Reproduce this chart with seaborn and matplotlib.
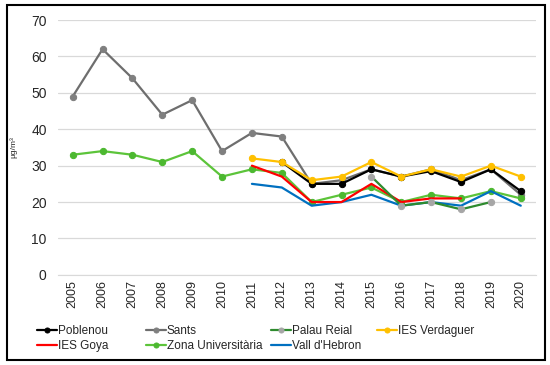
import matplotlib
matplotlib.use("Agg")
import matplotlib.pyplot as plt
import numpy as np
import pandas as pd
import seaborn as sns
from matplotlib.patches import Rectangle

years = [str(y) for y in range(2005, 2021)]

poblenou = [None] * 7 + [31, 25, 25, 29, 27, 28.5, 25.5, 29, 23]
sants = [49, 62, 54, 44, 48, 34, 39, 38, 25, 26, 29, 27, 29, 26, 29, 22]
palau_reial = [None] * 10 + [27, 19, 20, 18, 20, None]
ies_verdaguer = [None] * 6 + [32, 31, 26, 27, 31, 27, 29, 27, 30, 27]
ies_goya = [None] * 6 + [30, 27, 20, 20, 25, 20, 21, 21, None, None]
zona_univ = [33, 34, 33, 31, 34, 27, 29, 28, 20, 22, 24, 20, 22, 21, 23, 21]
vall_hebron = [None] * 6 + [25, 24, 19, 20, 22, 19, 20, 19, 23, 19]

# name, values, line colour, marker, marker colour
series = [
    ("Poblenou", poblenou, "#000000", "o", "#000000"),
    ("Sants", sants, "#6e6e6e", "o", "#7f7f7f"),
    ("Palau Reial", palau_reial, "#2e8b2e", "o", "#a6a6a6"),
    ("IES Verdaguer", ies_verdaguer, "#ffc000", "o", "#ffc000"),
    ("IES Goya", ies_goya, "#ff0000", None, None),
    ("Zona Universitària", zona_univ, "#5cc43a", "o", "#4cb830"),
    ("Vall d'Hebron", vall_hebron, "#0070c0", None, None),
]
lookup = {s[0]: s for s in series}

sns.set_style("white")
plt.rcParams["font.family"] = ["Liberation Sans", "DejaVu Sans"]

fig = plt.figure(figsize=(5.5, 3.65), dpi=100)
ax = fig.add_axes([0.105, 0.247, 0.869, 0.698])

draw_order = ["Sants", "Zona Universitària", "Vall d'Hebron", "IES Goya",
              "Palau Reial", "Poblenou", "IES Verdaguer"]
x_pos = np.arange(len(years))
for name in draw_order:
    _, vals, color, marker, mfc = lookup[name]
    df = pd.DataFrame({"x": x_pos, "y": [np.nan if v is None else v for v in vals]}).dropna()
    kw = {}
    if marker:
        kw = dict(marker=marker, markersize=4.5, markerfacecolor=mfc, markeredgecolor=mfc)
    sns.lineplot(data=df, x="x", y="y", ax=ax, color=color, linewidth=1.6,
                 label=name, zorder=3, **kw)

ax.set_xlim(-0.5, len(years) - 0.5)
ax.set_ylim(0, 70)
ax.set_yticks(range(0, 71, 10))
ax.set_xticks(x_pos)
ax.set_xticklabels(years, rotation=90, fontsize=9)
ax.tick_params(axis="y", labelsize=10, length=0, pad=8)
ax.tick_params(axis="x", length=0, pad=4)
ax.set_xticks(np.arange(-0.5, len(years)), minor=True)
ax.tick_params(axis="x", which="minor", length=4, color="#d9d9d9", width=1)
ax.grid(axis="y", color="#d9d9d9", linewidth=0.9)
ax.set_axisbelow(True)
for s in ["top", "right", "left"]:
    ax.spines[s].set_visible(False)
ax.spines["bottom"].set_color("#d9d9d9")
ax.set_xlabel("")
ax.set_ylabel("µg/m³", fontsize=6, labelpad=10)

h, l = ax.get_legend_handles_labels()
hd = dict(zip(l, h))
ax.get_legend().remove()
# one legend per column so the column positions match the original
columns = [["Poblenou", "IES Goya"], ["Sants", "Zona Universitària"],
           ["Palau Reial", "Vall d'Hebron"], ["IES Verdaguer"]]
col_x = [0.068, 0.266, 0.493, 0.686]
for names, cx in zip(columns, col_x):
    fig.legend([hd[n] for n in names], names, loc="upper left",
               bbox_to_anchor=(cx, 0.11), frameon=False, fontsize=8.5,
               handlelength=1.7, handletextpad=0.05, labelspacing=0.25,
               borderaxespad=0, borderpad=0, markerscale=0.8)

fig.patches.append(Rectangle((0.012, 0.014), 0.978, 0.972, transform=fig.transFigure,
                             fill=False, edgecolor="black", linewidth=1.5))

fig.savefig("out.png", dpi=100)
